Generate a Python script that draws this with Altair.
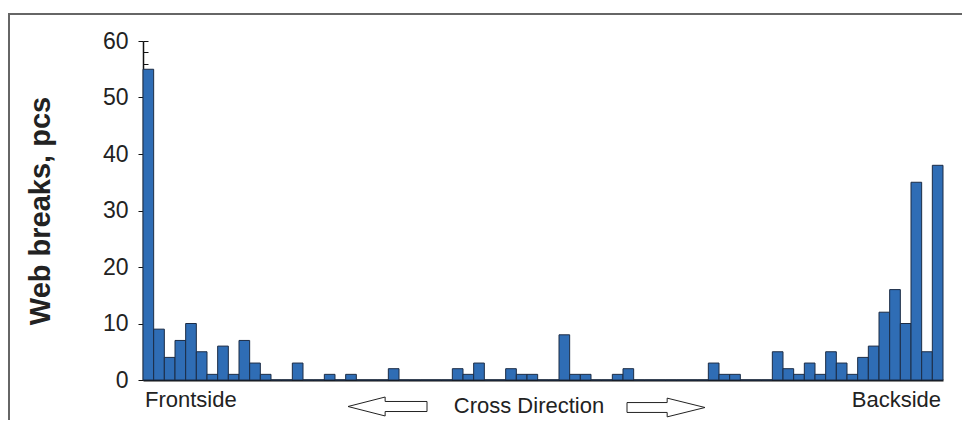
import altair as alt
import pandas as pd

# ---- data ----
positions = list(range(1, 76))
breaks = [55, 9, 4, 7, 10, 5, 1, 6, 1, 7, 3, 1, 0, 0, 3,
          0, 0, 1, 0, 1,
          0, 0, 0, 2, 0,
          0, 0, 0, 0, 2,
          1, 3, 0, 0, 2,
          1, 1, 0, 0, 8,
          1, 1, 0, 0, 1,
          2, 0, 0, 0, 0,
          0, 0, 0, 3, 1,
          1, 0, 0, 0, 5,
          2, 1, 3, 1, 5,
          3, 1, 4, 6, 12,
          16, 10, 35, 5, 38]
y_ticks = [0, 10, 20, 30, 40, 50, 60]
minor_ticks = list(range(0, 61, 2))
side_labels = ["Frontside", "Cross Direction", "Backside"]
y_title = "Web breaks, pcs"

df = pd.DataFrame({"pos": positions, "breaks": breaks})

FONT = "Liberation Sans"
W, H = 800, 339

x_enc = alt.X("pos:O",
              scale=alt.Scale(paddingInner=0, paddingOuter=0),
              axis=alt.Axis(labels=False, ticks=False, title=None,
                            domainColor="#111111", domainWidth=2))
y_scale = alt.Scale(domain=[0, 60], nice=False)

bars = alt.Chart(df).mark_bar(fill="#2f6db5", stroke="#1c2c45", strokeWidth=1).encode(
    x=x_enc,
    y=alt.Y("breaks:Q", scale=y_scale,
            axis=alt.Axis(values=y_ticks, grid=False, orient="left",
                          title=y_title, titleFont=FONT, titleFontSize=29,
                          titleFontWeight="bold", titleColor="#222222",
                          titleX=-88, titleY=H / 2, titleAngle=270,
                          labelFont=FONT, labelFontSize=23, labelColor="#222222",
                          labelPadding=10, tickSize=5, tickColor="#111111",
                          domainColor="#111111", domainWidth=1.5)),
)

minor = alt.Chart(df).mark_bar(opacity=0).encode(
    x=x_enc,
    y=alt.Y("breaks:Q", scale=y_scale,
            axis=alt.Axis(values=minor_ticks, grid=False, orient="left",
                          labels=False, domain=False, title=None,
                          tickSize=5, offset=-5, tickColor="#111111")),
)

one = pd.DataFrame({"k": [0]})

txt_front = alt.Chart(one).mark_text(font=FONT, fontSize=22, color="#222222",
                                     align="left", baseline="alphabetic").encode(
    x=alt.value(2), y=alt.value(366), text=alt.value(side_labels[0]))
txt_cross = alt.Chart(one).mark_text(font=FONT, fontSize=22, color="#222222",
                                     align="center", baseline="alphabetic").encode(
    x=alt.value(386), y=alt.value(372), text=alt.value(side_labels[1]))
txt_back = alt.Chart(one).mark_text(font=FONT, fontSize=22, color="#222222",
                                    align="right", baseline="alphabetic").encode(
    x=alt.value(798), y=alt.value(366), text=alt.value(side_labels[2]))

left_arrow = "M -1 0 L -0.06 -0.24 L -0.06 -0.127 L 1 -0.127 L 1 0.127 L -0.06 0.127 L -0.06 0.24 Z"
right_arrow = "M 1 0 L 0.03 -0.24 L 0.03 -0.127 L -1 -0.127 L -1 0.127 L 0.03 0.127 L 0.03 0.24 Z"

arr_l = alt.Chart(one).mark_point(shape=left_arrow, size=6241, filled=True,
                                  fill="white", stroke="#222222", strokeWidth=1,
                                  opacity=1).encode(
    x=alt.value(244.5), y=alt.value(365.5))
arr_r = alt.Chart(one).mark_point(shape=right_arrow, size=6084, filled=True,
                                  fill="white", stroke="#222222", strokeWidth=1,
                                  opacity=1).encode(
    x=alt.value(523), y=alt.value(366.5))

frame_top = alt.Chart(one).mark_rule(color="#666666", strokeWidth=2).encode(
    x=alt.value(-134), x2=alt.value(819), y=alt.value(-27))
frame_left = alt.Chart(one).mark_rule(color="#666666", strokeWidth=2).encode(
    x=alt.value(-134), y=alt.value(-28), y2=alt.value(379))

chart = alt.layer(
    minor, bars, txt_front, txt_cross, txt_back, arr_l, arr_r, frame_top, frame_left
).resolve_axis(y="independent").properties(
    width=W, height=H,
    autosize=alt.AutoSizeParams(type="none"),
    padding={"left": 135, "top": 33, "right": 19, "bottom": 40},
    background="white",
).configure_view(stroke=None)

chart.save("out.html", embed_options={"renderer": "svg", "actions": False})
